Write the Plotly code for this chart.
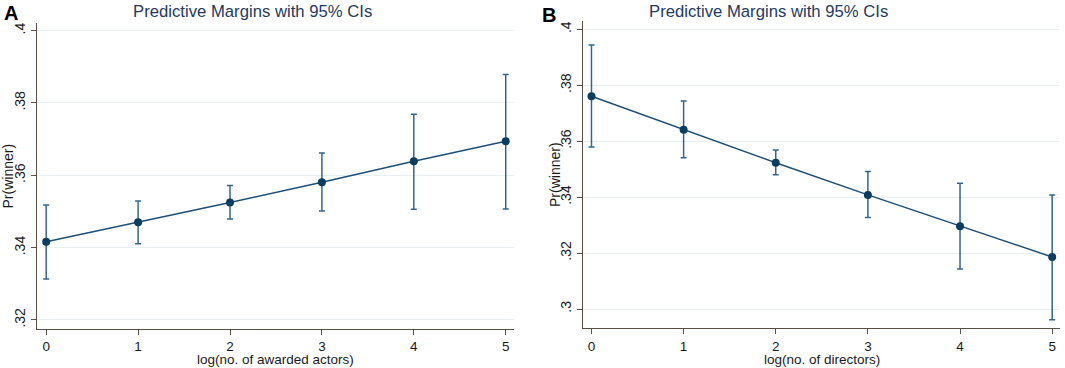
import plotly.graph_objects as go

# ---- data ----
x_vals = [0, 1, 2, 3, 4, 5]
x_ticklabels = ["0", "1", "2", "3", "4", "5"]

a_margin = [0.3416, 0.3470, 0.3525, 0.3581, 0.3639, 0.3694]
a_lo = [0.3313, 0.3411, 0.3479, 0.3501, 0.3506, 0.3507]
a_hi = [0.3518, 0.3529, 0.3572, 0.3662, 0.3769, 0.3879]

b_margin = [0.3761, 0.3641, 0.3523, 0.3408, 0.3296, 0.3186]
b_lo = [0.3579, 0.3541, 0.3480, 0.3327, 0.3143, 0.2962]
b_hi = [0.3944, 0.3744, 0.3569, 0.3492, 0.3450, 0.3408]

a_yticks = [0.32, 0.34, 0.36, 0.38, 0.40]
a_yticklabels = [".32", ".34", ".36", ".38", ".4"]
b_yticks = [0.30, 0.32, 0.34, 0.36, 0.38, 0.40]
b_yticklabels = [".3", ".32", ".34", ".36", ".38", ".4"]

title_text = "Predictive Margins with 95% CIs"
a_xtitle = "log(no. of awarded actors)"
b_xtitle = "log(no. of directors)"
y_title = "Pr(winner)"

# ---- styles ----
W, H = 1065, 368
LINE_C = "#1f4e74"
MARK_C = "#0b3d60"
ERR_C = "#33668a"
AXIS_C = "#5a4f45"
GRID_C = "#e8f0f2"
TITLE_C = "#243a5e"
TEXT_C = "#1a1a1a"
FONT = "Liberation Sans, Arial, sans-serif"

def px_x(p):
    return p / W

def px_y(p):
    return 1 - p / H

fig = go.Figure()

def add_panel(margin, lo, hi, xa, ya):
    plus = [h - m for h, m in zip(hi, margin)]
    minus = [m - l for m, l in zip(margin, lo)]
    fig.add_trace(go.Scatter(
        x=x_vals, y=margin, xaxis=xa, yaxis=ya, mode="lines+markers",
        line=dict(color=LINE_C, width=1.5),
        marker=dict(color=MARK_C, size=8),
        error_y=dict(type="data", array=plus, arrayminus=minus, symmetric=False,
                     color=ERR_C, thickness=1.5, width=3),
        showlegend=False, hoverinfo="x+y",
    ))

add_panel(a_margin, a_lo, a_hi, "x", "y")
add_panel(b_margin, b_lo, b_hi, "x2", "y2")

axis_common = dict(
    showline=True, linecolor=AXIS_C, linewidth=1.2,
    ticks="outside", ticklen=5, tickcolor=AXIS_C, tickwidth=1,
    zeroline=False,
)
xfont = dict(family=FONT, size=13.5, color=TEXT_C)
yfont = dict(family=FONT, size=14, color=TEXT_C)

fig.update_layout(
    width=W, height=H,
    margin=dict(l=0, r=0, t=0, b=0),
    paper_bgcolor="white", plot_bgcolor="white",
    font=dict(family=FONT),
    xaxis=dict(domain=[px_x(37), px_x(514)], range=[-0.1, 5.09],
               tickvals=x_vals, ticktext=x_ticklabels, showgrid=False,
               tickfont=xfont, anchor="y", **axis_common),
    yaxis=dict(domain=[px_y(329), px_y(22.7)], range=[0.3175, 0.4022],
               tickvals=a_yticks, ticktext=a_yticklabels, tickangle=-90,
               showgrid=True, gridcolor=GRID_C, gridwidth=1,
               tickfont=yfont, anchor="x", **axis_common),
    xaxis2=dict(domain=[px_x(583), px_x(1060)], range=[-0.092, 5.085],
                tickvals=x_vals, ticktext=x_ticklabels, showgrid=False,
                tickfont=xfont, anchor="y2", **axis_common),
    yaxis2=dict(domain=[px_y(328.3), px_y(20.7)], range=[0.2931, 0.4031],
                tickvals=b_yticks, ticktext=b_yticklabels, tickangle=-90,
                showgrid=True, gridcolor=GRID_C, gridwidth=1,
                tickfont=yfont, anchor="x2", **axis_common),
)

ann = []
# panel letters
ann.append(dict(text="<b>A</b>", x=px_x(2), y=px_y(13), xref="paper", yref="paper",
                xanchor="left", yanchor="middle", showarrow=False,
                font=dict(family=FONT, size=20, color="black")))
ann.append(dict(text="<b>B</b>", x=px_x(540), y=px_y(15), xref="paper", yref="paper",
                xanchor="left", yanchor="middle", showarrow=False,
                font=dict(family=FONT, size=20, color="black")))
# titles
ann.append(dict(text=title_text, x=px_x(252), y=px_y(11.5), xref="paper", yref="paper",
                xanchor="center", yanchor="middle", showarrow=False,
                font=dict(family=FONT, size=16.7, color=TITLE_C)))
ann.append(dict(text=title_text, x=px_x(768), y=px_y(11.5), xref="paper", yref="paper",
                xanchor="center", yanchor="middle", showarrow=False,
                font=dict(family=FONT, size=16.7, color=TITLE_C)))
# x titles
ann.append(dict(text=a_xtitle, x=px_x(275), y=px_y(359), xref="paper", yref="paper",
                xanchor="center", yanchor="middle", showarrow=False,
                font=dict(family=FONT, size=13.5, color=TEXT_C)))
ann.append(dict(text=b_xtitle, x=px_x(821.5), y=px_y(359), xref="paper", yref="paper",
                xanchor="center", yanchor="middle", showarrow=False,
                font=dict(family=FONT, size=13.5, color=TEXT_C)))
# y titles
ann.append(dict(text=y_title, x=px_x(7.5), y=px_y(176), xref="paper", yref="paper",
                xanchor="center", yanchor="middle", textangle=-90, showarrow=False,
                font=dict(family=FONT, size=14, color=TEXT_C)))
ann.append(dict(text=y_title, x=px_x(555), y=px_y(175), xref="paper", yref="paper",
                xanchor="center", yanchor="middle", textangle=-90, showarrow=False,
                font=dict(family=FONT, size=14, color=TEXT_C)))
fig.update_layout(annotations=ann)

fig.write_html("out.html", config={"displayModeBar": False},
               post_script="document.body.style.margin='0';document.body.style.overflow='hidden';")
